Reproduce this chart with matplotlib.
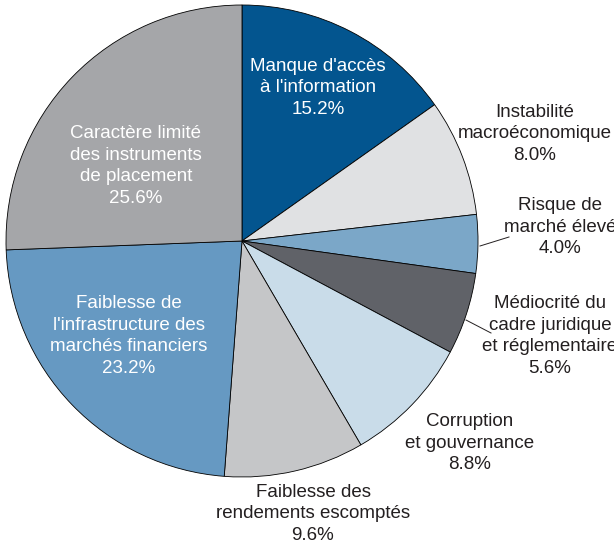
import numpy as np
import matplotlib.pyplot as plt

plt.rcParams['font.family'] = ['Liberation Sans', 'DejaVu Sans']

# Obstacles, clockwise from 12 o'clock
labels = [
    "Manque d'accès\nà l'information",
    "Instabilité\nmacroéconomique",
    "Risque de\nmarché élevé",
    "Médiocrité du\ncadre juridique\net réglementaire",
    "Corruption\net gouvernance",
    "Faiblesse des\nrendements escomptés",
    "Faiblesse de\nl'infrastructure des\nmarchés financiers",
    "Caractère limité\ndes instruments\nde placement",
]
shares = [15.2, 8.0, 4.0, 5.6, 8.8, 9.6, 23.2, 25.6]
colors = ['#03558f', '#e0e1e3', '#7ba7c8', '#606268',
          '#c9dce9', '#c5c6c8', '#6699c2', '#a5a6a9']
inside = [True, False, False, False, False, False, True, True]

# label anchor points in pixel units (x from left, y from top)
label_xy = [(318, 88), (535, 134), (560, 227), (550, 336),
            (470, 443), (313, 514), (129, 336), (136, 166)]

W, H = 614, 545
fig = plt.figure(figsize=(W / 100, H / 100), dpi=100)
ax = fig.add_axes([0, 0, 1, 1])

cx, cy, r = 242, H - 241, 236
ax.pie(shares, colors=colors, startangle=90, counterclock=False,
       center=(cx, cy), radius=r,
       wedgeprops=dict(edgecolor='black', linewidth=0.6))
ax.set_xlim(0, W)
ax.set_ylim(0, H)
ax.set_aspect('equal')
ax.axis('off')

for lab, val, (x, y), inn in zip(labels, shares, label_xy, inside):
    ax.text(x, H - y, f"{lab}\n{val:.1f}%", ha='center', va='center',
            fontsize=13.5, linespacing=1.36,
            color='white' if inn else '#231f20')

# leader lines for the two thin slices
ax.plot([480, 509], [H - 246, H - 237], color='#231f20', lw=0.7)
ax.plot([466, 491], [H - 320, H - 333], color='#231f20', lw=0.7)

fig.savefig('out.png', dpi=100)
